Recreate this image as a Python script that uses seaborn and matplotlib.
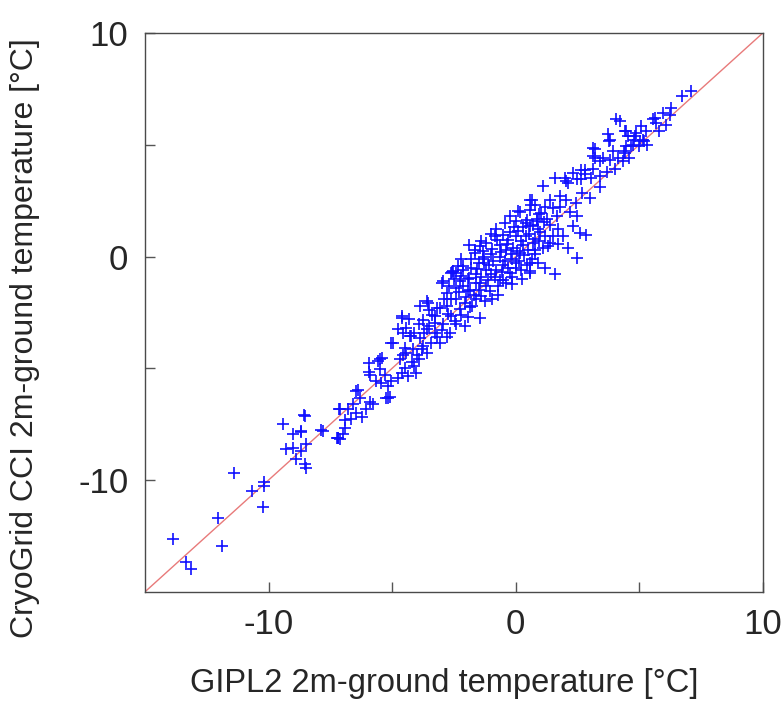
import pandas as pd
import seaborn as sns
import matplotlib
matplotlib.use("Agg")
import matplotlib.pyplot as plt

# axis range shared by both axes and the 1:1 line
lims = [-15, 10]
major_ticks = [-10, 0, 10]
minor_ticks = [-5, 5]
tick_labels = ["-10", "0", "10"]

# GIPL2 (x) vs CryoGrid CCI (y)
tail_x = [-13.86, -13.36, -13.16, -11.87, -12.03, -11.38, -10.22, -10.17, -10.2, -10.68]
tail_y = [-12.63, -13.67, -14.0, -12.96, -11.70, -9.68, -11.21, -10.27, -10.1, -10.47]

low_x = [-9.41, -8.55, -9.01, -8.70, -9.30, -9.0, -8.90, -8.70, -8.47, -8.51, -8.5, -7.86,
         -7.15, -7.21, -7.1, -8.54, -8.67, -7.19, -7.8, -7.25, -7.0, -6.92, -6.65, -6.45,
         -6.24, -7.12, -6.78, -6.45, -6.3, -6.04, -5.77, -5.9, -6.38, -6.9, -6.6]
low_y = [-7.48, -7.11, -7.93, -7.81, -8.59, -8.56, -9.08, -8.71, -8.41, -9.30, -9.45, -7.77,
         -6.84, -8.11, -8.15, -7.14, -7.87, -8.11, -7.8, -8.1, -7.95, -7.65, -7.29, -6.99,
         -7.2, -6.8, -6.84, -6.02, -6.35, -6.84, -6.62, -6.5, -5.95, -7.3, -6.6]

mid_x = [-5.93, -5.93, -5.57, -5.43, -5.03, -5.5, -5.3, -5.64, -5.45, -5.17, -5.23, -5.1,
         -5.03, -4.76, -4.62, -4.49, -4.36, -4.02, -4.69, -4.42, -4.5, -4.76, -4.55, -4.29,
         -4.1, -3.88, -3.81, -4.0, -4.2, -3.61, -3.41, -3.28, -3.6, -5.9, -5.5, -4.96,
         -4.62, -5.17, -4.62, -4.42, -4.22, -3.88, -3.55, -3.5, -3.75, -3.28, -3.07, -3.0,
         -2.8, -2.6, -2.58, -2.33, -2.13, -2.2, -1.95, -1.86, -1.66, -1.46, -1.32, -1.5,
         -1.6, -1.46, -1.59, -1.46, -2.06, -2.4, -2.67, -2.8, -3.07, -3.28, -2.94, -2.6,
         -2.27, -2.07, -1.86, -2.4, -2.74, -3.75, -4.15, -4.56, -1.2, -3.6, -2.94, -2.54]
mid_y = [-4.75, -5.17, -4.68, -4.53, -3.86, -5.05, -5.28, -5.58, -5.65, -5.8, -6.32, -6.3,
         -5.58, -5.43, -5.2, -4.98, -5.35, -5.2, -4.6, -4.31, -4.1, -3.26, -3.4, -3.56,
         -3.4, -3.64, -4.16, -4.4, -4.7, -3.26, -3.86, -2.97, -4.3, -5.3, -4.6, -3.86,
         -2.67, -6.32, -2.74, -3.19, -3.56, -2.22, -2.07, -2.4, -2.82, -2.67, -2.3, -1.18,
         -1.62, -0.73, -0.68, -0.43, -0.43, -0.88, -1.0, -1.48, 0.17, 0.46, -0.13, -0.3,
         -0.8, -1.18, -1.92, -2.74, -3.12, -3.04, -3.41, -3.6, -3.86, -3.4, -3.0, -2.65,
         -2.37, -2.1, -2.25, -1.9, -2.57, -4.01, -4.15, -4.4, -0.6, -2.0, -1.1, -0.66]

core_x = [1.1, 0.57, 0.6, 0.09, -0.24, -0.44, -0.78, -0.85, -1.19, -1.32, -1.66, -1.79,
          -2.13, -2.4, -2.26, -1.9, -2.4, -1.93, -1.39, -1.6, -1.12, -0.85, -0.51, -0.24,
          -0.5, -0.17, 0.16, 0.3, 0.03, -0.3, -0.65, -1.0, -1.3, 0.57, 0.57, 0.77, 0.95,
          0.9, 0.57, 0.45, 0.85, 1.15, 0.95, -0.65, -0.4, 0.03, 0.2, -0.17, -1.05,
          -2.9, -2.7, -2.5, -2.3, -2.2, -2.0, -1.8, -1.7, -1.5, -1.4, -1.3, -1.2, -1.1,
          -1.0, -0.95, -0.9, -0.8, -0.75, -0.7, -0.6, -0.55, -0.5, -0.45, -0.4, -0.35,
          -0.3, -0.25, -0.2, -0.15, -0.1, -0.05, 0.0, 0.05, 0.1, 0.15, 0.2, 0.25, 0.3,
          0.35, 0.4, 0.45, 0.5, 0.55, 0.65, 0.7, 0.8, 0.9, 1.0, -3.2, -3.4, -3.0, -2.8,
          -2.6, -2.45, -2.15, -1.95, -1.75, -1.55, -1.25, -0.95, -0.7, -3.9, -4.3, -3.7,
          -3.5, -3.2, -4.1, -3.9, -2.2, -1.9, -1.0, -1.4]
core_y = [3.14, 2.55, 2.3, 2.03, 1.8, 1.51, 1.21, 0.9, 0.61, 0.24, 0.31, -0.13,
          -0.6, -0.75, -1.1, -0.95, -1.4, -1.55, -1.77, -1.2, -1.03, -0.9, -1.03, -0.73,
          -0.4, -0.13, 0.17, 0.5, 0.91, 0.75, 0.5, 0.1, -0.3, -0.28, -0.65, 0.31, 0.7,
          1.21, 1.35, 1.65, 1.7, 1.55, 1.9, 0.0, 0.3, -0.3, -0.6, -1.25, -1.55,
          -1.9, -1.3, -1.0, -1.6, -2.6, -1.8, -0.5, -1.7, -1.5, -0.9, 0.0, -1.3, -0.4,
          -0.8, 0.35, -0.2, -0.6, 0.75, -1.3, 0.2, -0.7, 0.95, -0.2, -1.2, 0.55,
          -0.5, 1.1, 0.1, -0.9, 0.4, 1.3, -0.5, 0.25, 1.15, -0.2, 0.7, -1.0, 1.3,
          0.05, 0.9, -0.4, 0.3, 1.0, -0.1, 1.4, 0.8, -0.3, 1.1, -2.3, -2.6, -3.3, -2.2,
          -1.9, -2.9, -1.3, -2.7, -2.2, -0.55, -2.0, -1.9, -1.7, -3.0, -2.8, -3.4,
          -3.1, -3.6, -4.9, -4.6, -0.1, 0.5, 1.0, 0.7]

upper_x = [3.13, 3.2, 2.79, 2.65, 2.32, 1.98, 2.12, 1.58, 1.78, 2.05, 2.45, 2.7, 1.38,
           1.51, 1.04, 0.64, 0.56, 0.16, 0.0, 0.4, 0.86, 1.26, 1.66, 1.38, 1.71, 2.32,
           1.92, 1.5, 1.2, 1.38, 1.71, 2.12, 1.1, 0.7, 0.8, 2.6, 3.13, 1.3, 0.57, -0.65,
           2.83, 2.5, 1.2, 1.6, 0.8, 1.2, 1.8, 2.2, 2.5, 3.0, 3.4]
upper_y = [4.86, 4.4, 3.89, 3.45, 3.74, 3.5, 3.28, 3.52, 2.7, 2.55, 2.4, 2.85, 2.55,
           2.18, 1.95, 2.55, 2.1, 2.0, 1.6, 1.5, 1.6, 1.7, 1.8, 1.4, 1.21, 1.36,
           0.9, 0.9, 0.9, 0.6, 0.54, 0.39, 0.4, 0.6, 0.1, 1.05, 3.9, 0.45, -0.73, -1.03,
           0.98, -0.05, -0.5, -0.8, 2.3, 2.2, 2.2, 2.0, 1.8, 2.6, 3.1]

top_x = [4.07, 3.73, 3.77, 4.41, 4.55, 4.88, 5.08, 5.55, 5.67, 4.8, 4.68, 5.0, 5.2, 4.4,
         4.34, 3.94, 3.53, 3.2, 3.13, 3.4, 3.8, 4.15, 2.66, 2.8, 2.05, 2.5, 3.03, 3.4,
         7.1, 6.74, 6.3, 6.26, 5.96, 5.62, 5.28, 4.48, 4.82, 5.02, 4.75, 4.48, 4.41,
         5.15, 4.21, 3.8, 3.7, 4.0, 4.6, 5.3, 5.8, 6.1]
top_y = [6.13, 5.46, 5.17, 5.6, 5.38, 5.53, 5.83, 6.13, 5.98, 5.2, 4.93, 4.93, 5.15, 4.7,
         4.26, 4.71, 4.41, 4.79, 4.5, 4.26, 4.3, 4.4, 3.89, 3.67, 3.37, 3.45, 3.52, 3.6,
         7.39, 7.2, 6.65, 6.35, 6.43, 6.2, 5.6, 5.6, 5.38, 5.15, 5.0, 4.93, 4.63,
         5.23, 6.05, 5.2, 3.8, 3.9, 4.4, 5.0, 5.6, 5.9]

gipl2 = tail_x + low_x + mid_x + core_x + upper_x + top_x
cryogrid = tail_y + low_y + mid_y + core_y + upper_y + top_y
df = pd.DataFrame({"gipl2": gipl2, "cryogrid": cryogrid})

sns.set_style("ticks")
plt.rcParams["font.family"] = ["Liberation Sans", "DejaVu Sans"]

fig = plt.figure(figsize=(7.84, 7.02), dpi=100)
ax = fig.add_axes([0.185, 0.157, 0.788, 0.796])

ax.plot(lims, lims, color="#e87a7a", linewidth=1.0, zorder=1)
sns.scatterplot(data=df, x="gipl2", y="cryogrid", marker="+", color="#1010ff",
                s=65, linewidth=1.2, ax=ax, zorder=2)

ax.set_xlim(lims)
ax.set_ylim(lims)
ax.set_xticks(major_ticks)
ax.set_xticklabels(tick_labels)
ax.set_yticks(major_ticks)
ax.set_yticklabels(tick_labels)
ax.set_xticks(minor_ticks, minor=True)
ax.set_yticks(minor_ticks, minor=True)
ax.tick_params(which="both", direction="in", length=7, width=1, color="#555555",
               labelsize=25, pad=12, top=False, right=False)

for spine in ax.spines.values():
    spine.set_color("#4a4a4a")
    spine.set_linewidth(1.0)

ax.set_xlabel("GIPL2 2m-ground temperature [°C]", fontsize=23.5)
ax.set_ylabel("CryoGrid CCI 2m-ground temperature [°C]", fontsize=23)
ax.xaxis.set_label_coords(0.485, -0.136)
ax.yaxis.set_label_coords(-0.17, 0.454)

fig.savefig("out.png", dpi=100)
